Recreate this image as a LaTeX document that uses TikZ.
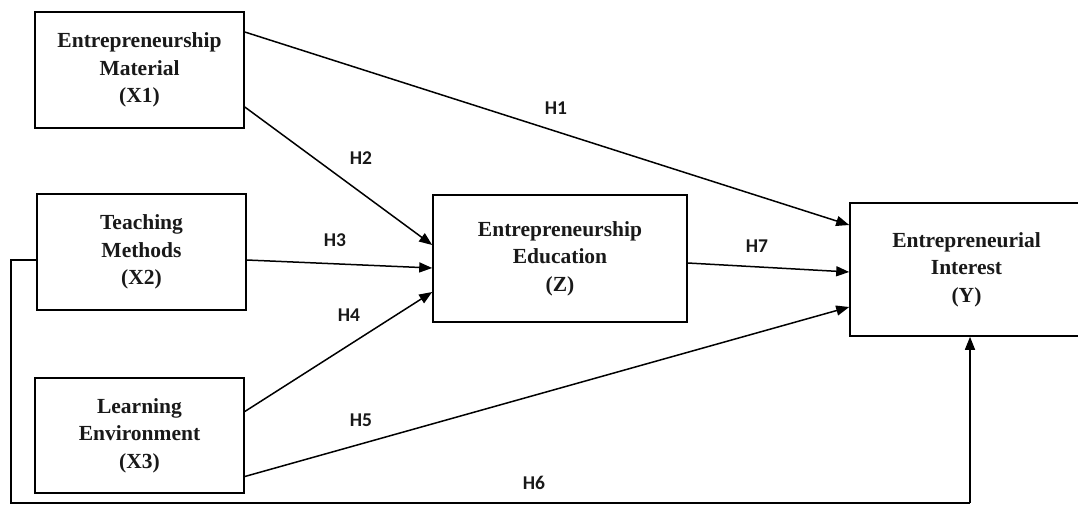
\documentclass[tikz,border=0pt]{standalone}
\usepackage{fontspec}
\setmainfont{Liberation Serif}
\newfontfamily\hfont{Carlito}
\usetikzlibrary{arrows.meta,calc}
\begin{document}
\begin{tikzpicture}[x=1pt,y=-1pt,
  varbox/.style={draw, line width=1.6pt, rectangle, inner sep=0pt, align=center,
    font=\fontsize{21.5}{27.5}\selectfont\bfseries, text=black!90},
  hlabel/.style={font=\hfont\fontsize{19.5}{22}\selectfont\bfseries, inner sep=0pt, text=black!90},
  conn/.style={line width=1.5pt, -{Triangle[length=13pt,width=10pt]}},
  plain/.style={line width=1.5pt}]
\useasboundingbox (0,0) rectangle (1078,504);
\fill[white] (0,0) rectangle (1078,504);

\node[varbox, minimum width=209pt, minimum height=116pt] (X1) at (139.5,70) {Entrepreneurship\\Material\\(X1)};
\node[varbox, minimum width=209pt, minimum height=116pt] (X2) at (141.5,252) {Teaching\\Methods\\(X2)};
\node[varbox, minimum width=209pt, minimum height=115pt] (X3) at (139.5,435.5) {Learning\\Environment\\(X3)};
\node[varbox, minimum width=254pt, minimum height=127pt] (Z) at (560,258.5) {Entrepreneurship\\Education\\(Z)};
\node[varbox, minimum width=230pt, minimum height=133pt, text width=220pt] (Y) at (965,269.5) {\hspace*{3pt}Entrepreneurial\\\hspace*{3pt}Interest\\\hspace*{3pt}(Y)};

\draw[conn] ([yshift=38pt]X1.east) -- ([yshift=44.5pt]Y.west);
\draw[conn] ([yshift=-37pt]X1.east) -- ([yshift=13.5pt]Z.west);
\draw[conn] ([yshift=-8pt]X2.east) -- ([yshift=-9.5pt]Z.west);
\draw[conn] ([yshift=24pt]X3.east) -- ([yshift=-33.5pt]Z.west);
\draw[conn] ([yshift=-41pt]X3.east) -- ([yshift=-37.5pt]Y.west);
\draw[conn] ([yshift=-4.5pt]Z.east) -- ([yshift=-2.5pt]Y.west);

\coordinate (fbL) at (11,503);
\coordinate (fbR) at (970,503);
\draw[plain] ([yshift=-8pt]X2.west) -| (fbL) -- (fbR);
\draw[conn] (fbR) -- ([xshift=5pt]Y.south);

\node[hlabel] (h1) at (556,108) {H1};
\node[hlabel] (h2) at (361,158) {H2};
\node[hlabel] (h3) at (335,240) {H3};
\node[hlabel] (h4) at (349,315) {H4};
\node[hlabel] (h5) at (361,420) {H5};
\node[hlabel] (h6) at (534,483) {H6};
\node[hlabel] (h7) at (757,246) {H7};
\end{tikzpicture}
\end{document}
